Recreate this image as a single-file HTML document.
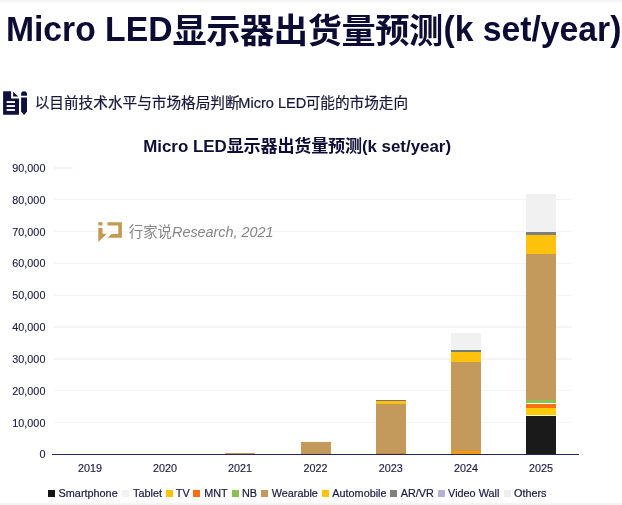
<!DOCTYPE html>
<html lang="zh-CN">
<head>
<meta charset="utf-8">
<title>Micro LED显示器出货量预测(k set/year)</title>
<style>
html,body{margin:0;padding:0;background:#fff;}
body{width:622px;height:505px;position:relative;overflow:hidden;font-family:"Liberation Sans","Noto Sans CJK SC",sans-serif;color:#16163f;}
.abs{position:absolute;white-space:nowrap;line-height:1;}
.strip{position:absolute;left:0;width:622px;background:#f4f4f4;}
#title{left:5.9px;top:12.1px;font-size:33.7px;font-weight:bold;color:#0b0b33;}
#title .cj{font-size:34.2px;letter-spacing:-0.4px;position:relative;top:1.7px;}
#title .la{display:inline-block;transform:scaleY(1.045);transform-origin:0 78%;}
#sub{left:34.7px;top:95.8px;font-size:14.65px;color:#17173a;-webkit-text-stroke:0.2px;}
#sub .la{font-size:14.55px;margin:0 -0.6px 0 -1.3px;}
#ctitle{left:143.2px;top:137.5px;font-size:16.9px;font-weight:bold;color:#0e0e35;}
#ctitle .cj{font-size:17.1px;letter-spacing:-0.2px;position:relative;top:0.4px;}
.yl{position:absolute;left:0;width:45.4px;text-align:right;font-size:10.8px;-webkit-text-stroke:0.12px;line-height:12px;height:12px;color:#1a1a40;}
.gl{position:absolute;left:54px;width:518px;height:1.4px;background:#f4f4f7;}
.xl{position:absolute;width:60px;text-align:center;font-size:10.8px;-webkit-text-stroke:0.15px;line-height:12px;top:461.8px;color:#1a1a40;}
.seg{position:absolute;}
.lg{position:absolute;top:489.8px;width:7px;height:6.9px;}
.lt{position:absolute;top:487px;font-size:10.85px;-webkit-text-stroke:0.2px;line-height:12px;white-space:nowrap;color:#1a1a40;}
#wm{left:128.8px;top:224.9px;font-size:14.4px;color:#868686;}
#wm i{font-style:italic;}
</style>
</head>
<body>
<div class="strip" style="top:0;height:1.9px;"></div>
<div class="strip" style="top:502.8px;height:2.2px;"></div>
<div id="title" class="abs"><span class="la">Micro LED</span><span class="cj">显示器出货量预测</span><span class="la" style="margin-left:0.7px">(k set/year)</span></div>
<svg class="abs" style="left:0;top:85px;" width="34" height="35" viewBox="0 85 34 35">
  <g fill="#10103f">
    <path d="M3.6 91.2 H11.1 V98.5 H19 V114.3 Q19 114.8 18.5 114.8 H3.6 Q3.1 114.8 3.1 114.3 V91.7 Q3.1 91.2 3.6 91.2 Z"/>
    <path d="M13.1 91.7 L18.3 96.5 H13.1 Z"/>
    <path d="M21.1 95.7 V94.2 Q21.1 91.2 24.05 91.2 Q27 91.2 27 94.2 V95.7 Z"/>
    <path d="M21.1 97.5 H27 V111.5 L24.05 114.9 L21.1 111.5 Z"/>
  </g>
  <g fill="#fff">
    <rect x="6.6" y="101.1" width="8.3" height="1.9"/>
    <rect x="6.6" y="105.1" width="8.3" height="1.9"/>
    <rect x="6.6" y="109.0" width="8.3" height="1.9"/>
  </g>
</svg>
<div id="sub" class="abs">以目前技术水平与市场格局判断<span class="la">Micro LED</span>可能的市场走向</div>
<div id="ctitle" class="abs">Micro LED<span class="cj">显示器出货量预测</span>(k set/year)</div>
<div class="gl" style="top:421.78px"></div>
<div class="gl" style="top:389.96px"></div>
<div class="gl" style="top:358.14px"></div>
<div class="gl" style="top:326.32px"></div>
<div class="gl" style="top:294.50px"></div>
<div class="gl" style="top:262.68px"></div>
<div class="gl" style="top:230.86px"></div>
<div class="gl" style="top:199.04px"></div>
<div class="gl" style="top:167.22px;width:19px"></div>
<div class="yl" style="top:161.85px">90,000</div>
<div class="yl" style="top:193.69px">80,000</div>
<div class="yl" style="top:225.53px">70,000</div>
<div class="yl" style="top:257.37px">60,000</div>
<div class="yl" style="top:289.21px">50,000</div>
<div class="yl" style="top:321.05px">40,000</div>
<div class="yl" style="top:352.89px">30,000</div>
<div class="yl" style="top:384.73px">20,000</div>
<div class="yl" style="top:416.57px">10,000</div>
<div class="yl" style="top:448.41px">0</div>
<svg class="abs" style="left:90px;top:212px;" width="50" height="40" viewBox="90 212 50 40">
  <g fill="#c39a52">
    <rect x="98.3" y="222.2" width="4.2" height="3.3"/>
    <path d="M98.3 228 H102.5 V233.8 H106.9 L98.3 242.1 Z"/>
    <path d="M107.5 222.2 H121.9 V237.7 H107.8 L111.4 234.1 H118.3 V225.5 H107.5 Z"/>
  </g>
</svg>
<div id="wm" class="abs">行家说<i>Research, 2021</i></div>
<div class="seg" style="left:225.2px;top:452.7px;width:30px;height:1.3px;background:#c8965a"></div>
<div class="seg" style="left:300.5px;top:442.0px;width:30px;height:12.0px;background:#c49a5c"></div>
<div class="seg" style="left:375.7px;top:400.0px;width:30px;height:1.2px;background:#7d736a"></div>
<div class="seg" style="left:375.7px;top:401.2px;width:30px;height:3.0px;background:#fec20c"></div>
<div class="seg" style="left:375.7px;top:404.2px;width:30px;height:48.7px;background:#c49a5c"></div>
<div class="seg" style="left:375.7px;top:452.9px;width:30px;height:1.1px;background:#c8823c"></div>
<div class="seg" style="left:451.0px;top:333.4px;width:30px;height:16.8px;background:#f1f1f1"></div>
<div class="seg" style="left:451.0px;top:350.2px;width:30px;height:1.9px;background:#737c74"></div>
<div class="seg" style="left:451.0px;top:352.1px;width:30px;height:10.1px;background:#fec20c"></div>
<div class="seg" style="left:451.0px;top:362.2px;width:30px;height:88.7px;background:#c49a5c"></div>
<div class="seg" style="left:451.0px;top:450.9px;width:30px;height:3.1px;background:#f59b0a"></div>
<div class="seg" style="left:526.0px;top:194.0px;width:30px;height:38.0px;background:#f1f1f1"></div>
<div class="seg" style="left:526.0px;top:232.0px;width:30px;height:3.0px;background:#7f7f7f"></div>
<div class="seg" style="left:526.0px;top:235.0px;width:30px;height:19.0px;background:#fec20c"></div>
<div class="seg" style="left:526.0px;top:254.0px;width:30px;height:146.2px;background:#c49a5c"></div>
<div class="seg" style="left:526.0px;top:400.2px;width:30px;height:3.3px;background:#8cc050"></div>
<div class="seg" style="left:526.0px;top:403.5px;width:30px;height:4.1px;background:#f97010"></div>
<div class="seg" style="left:526.0px;top:407.6px;width:30px;height:7.2px;background:#ffcc0c"></div>
<div class="seg" style="left:526.0px;top:414.8px;width:30px;height:1.4px;background:#fff6d4"></div>
<div class="seg" style="left:526.0px;top:416.2px;width:30px;height:37.8px;background:#1a1a1a"></div>
<div class="seg" style="left:52.2px;top:453.6px;width:526.6px;height:1.4px;background:#26265a"></div>
<div class="xl" style="left:60.0px">2019</div>
<div class="xl" style="left:135.0px">2020</div>
<div class="xl" style="left:210.0px">2021</div>
<div class="xl" style="left:285.5px">2022</div>
<div class="xl" style="left:360.7px">2023</div>
<div class="xl" style="left:436.0px">2024</div>
<div class="xl" style="left:511.0px">2025</div>
<div class="lg" style="left:47.9px;background:#151515"></div><div class="lt" style="left:58.6px">Smartphone</div>
<div class="lg" style="left:121.8px;background:#f1f1f7"></div><div class="lt" style="left:133.0px">Tablet</div>
<div class="lg" style="left:166.0px;background:#fec20c"></div><div class="lt" style="left:175.8px">TV</div>
<div class="lg" style="left:193.4px;background:#f97010"></div><div class="lt" style="left:204.2px">MNT</div>
<div class="lg" style="left:231.7px;background:#8cc050"></div><div class="lt" style="left:242.0px">NB</div>
<div class="lg" style="left:261.0px;background:#c49a5c"></div><div class="lt" style="left:271.7px">Wearable</div>
<div class="lg" style="left:321.8px;background:#fec20c"></div><div class="lt" style="left:332.3px">Automobile</div>
<div class="lg" style="left:390.3px;background:#7f7f7f"></div><div class="lt" style="left:400.7px">AR/VR</div>
<div class="lg" style="left:437.7px;background:#b6b1d2"></div><div class="lt" style="left:448.1px">Video Wall</div>
<div class="lg" style="left:503.8px;background:#eeeeee"></div><div class="lt" style="left:514.0px">Others</div>
</body>
</html>
